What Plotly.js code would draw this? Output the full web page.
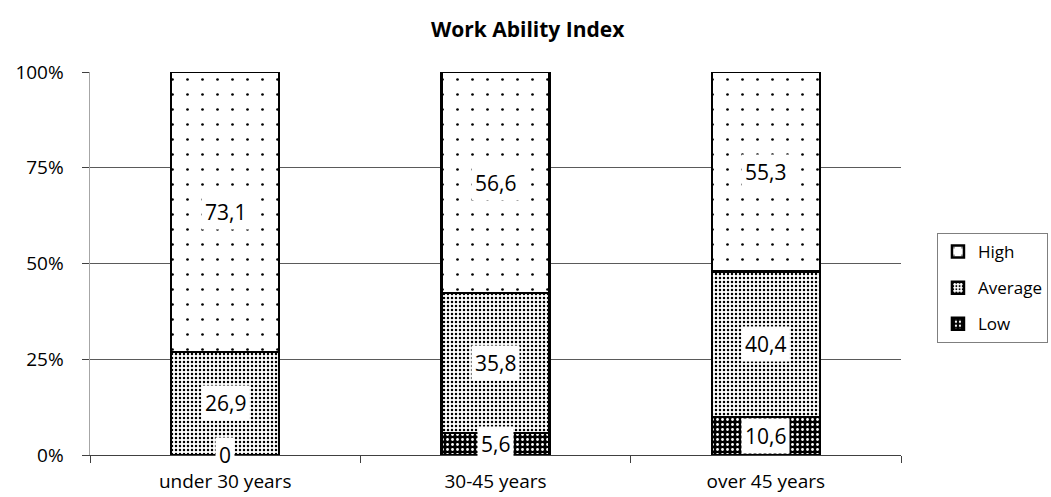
<!DOCTYPE html>
<html>
<head>
<meta charset="utf-8">
<script src="https://cdn.plot.ly/plotly-3.0.1.min.js"></script>
<style>html,body{margin:0;padding:0;background:#fff;}#chart{width:1051px;height:497px;}</style>
</head>
<body>
<div id="chart"></div>
<script>
const categories = ['under 30 years', '30-45 years', 'over 45 years'];
const lowValues = [0, 5.6, 10.6];
const averageValues = [26.9, 35.8, 40.4];
const highValues = [73.1, 56.6, 55.3];
const seriesNames = ['Low', 'Average', 'High'];
const legendRanks = [3, 2, 1];
const yTickVals = [0, 25, 50, 75, 100];

const FONT = '"Open Sans", Lato, sans-serif';
const series = [lowValues, averageValues, highValues];
const patterns = [
  {shape: '.', size: 5, solidity: 0.25, fgcolor: '#ffffff', bgcolor: '#000000', fillmode: 'replace'},
  {shape: '.', size: 4, solidity: 0.3, fgcolor: '#000000', bgcolor: '#ffffff', fillmode: 'replace'},
  {shape: '.', size: 15, solidity: 0.025, fgcolor: '#000000', bgcolor: '#ffffff', fillmode: 'replace'}
];

const traces = series.map((vals, i) => ({
  type: 'bar',
  name: seriesNames[i],
  x: categories,
  y: vals,
  legendgroup: 'g' + i,
  legendrank: legendRanks[i],
  marker: {color: '#ffffff', line: {color: '#000000', width: 2.5}, pattern: patterns[i]},
  hoverinfo: 'skip'
}));

function fmt(v) { return v === 0 ? '0' : v.toFixed(1).replace('.', ','); }

const annotations = [];
categories.forEach((c, ci) => {
  const total = series.reduce((s, arr) => s + arr[ci], 0);
  let cum = 0;
  series.forEach((arr) => {
    const v = arr[ci];
    const mid = (cum + v / 2) / total * 100;
    cum += v;
    annotations.push({
      x: c, y: mid, xref: 'x', yref: 'y', text: fmt(v), showarrow: false,
      font: {family: FONT, size: 21, color: '#000'}, bgcolor: '#ffffff', borderpad: 3
    });
  });
});

const layout = {
  width: 1051, height: 497,
  margin: {l: 90, r: 150, t: 72, b: 42, autoexpand: false},
  paper_bgcolor: '#ffffff', plot_bgcolor: '#ffffff',
  barmode: 'stack', barnorm: 'percent', bargap: 0.6,
  font: {family: FONT, size: 19, color: '#000'},
  title: {text: '<b>Work Ability Index</b>', x: 0.502, xref: 'container', y: 0.94, yref: 'container', yanchor: 'middle',
    font: {family: FONT, size: 21, color: '#000'}},
  xaxis: {type: 'category', showline: true, linecolor: '#404040', linewidth: 1,
    ticks: 'outside', tickson: 'boundaries', ticklen: 7, tickcolor: '#404040', showgrid: false,
    ticklabelstandoff: 9, automargin: false,
    tickfont: {family: FONT, size: 19, color: '#000'}, fixedrange: true},
  yaxis: {range: [0, 100], tickvals: yTickVals, ticktext: yTickVals.map(v => v + '%'),
    showline: true, linecolor: '#a6a6a6', linewidth: 1.5, ticks: 'outside', ticklen: 7, tickcolor: '#404040',
    ticklabelstandoff: 14, automargin: false,
    showgrid: true, gridcolor: '#5a5a5a', gridwidth: 1, zeroline: false,
    tickfont: {family: FONT, size: 19, color: '#000'}, fixedrange: true},
  legend: {xref: 'container', yref: 'container', x: 0.8915, xanchor: 'left', y: 0.4205, yanchor: 'middle',
    traceorder: 'grouped', tracegroupgap: 11,
    bordercolor: '#7f7f7f', borderwidth: 1, font: {family: FONT, size: 17, color: '#000'}},
  annotations: annotations,
  showlegend: true
};

Plotly.newPlot('chart', traces, layout, {displayModeBar: false, staticPlot: true});
</script>
</body>
</html>
